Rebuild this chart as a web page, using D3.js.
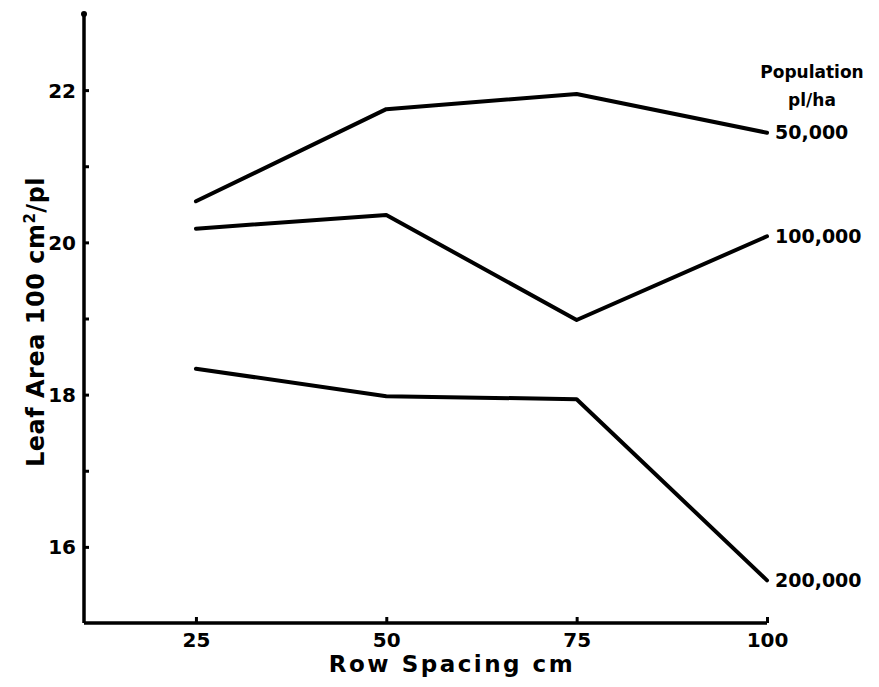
<!DOCTYPE html>
<html>
<head>
<meta charset="utf-8">
<script src="https://cdn.jsdelivr.net/npm/d3@7"></script>
<style>
  body { margin: 0; background: #fff; }
  text { font-family: "DejaVu Sans", sans-serif; font-weight: bold; fill: #000; }
</style>
</head>
<body>
<svg width="879" height="687"></svg>
<script>
// espacement des rangs (cm)
var rowSpacing = [25, 50, 75, 100];
// surface foliaire par population
var pop50k = [20.54, 21.75, 21.95, 21.44];
var pop100k = [20.18, 20.36, 18.98, 20.08];
var pop200k = [18.34, 17.98, 17.94, 15.56];
var seriesNames = ["50,000", "100,000", "200,000"];
var yTicks = [16, 17, 18, 19, 20, 21, 22];
var xTicks = [25, 50, 75, 100];

var svg = d3.select("svg");
var margin = { top: 14, left: 84, right: 112, bottom: 64 };

var x = d3.scaleLinear().domain([10.3, 100]).range([84, 767]);
var y = d3.scaleLinear().domain([15, 23]).range([623, 14]);

// axe des ordonnees
var yAxis = svg.append("g")
    .attr("transform", "translate(" + margin.left + ",0)")
    .call(d3.axisLeft(y)
        .tickValues(yTicks)
        .tickSize(-5)
        .tickPadding(8)
        .tickFormat(function(d) { return d % 2 === 0 ? d : ""; }));
yAxis.select(".domain").attr("stroke-width", 3.5).attr("d", "M0," + y(23) + "V" + y(15));
yAxis.selectAll(".tick line").attr("stroke-width", 3);
yAxis.selectAll("text").style("font-size", "20px").attr("dy", "0.35em");

// axe des abscisses
var xAxis = svg.append("g")
    .attr("transform", "translate(0," + y(15) + ")")
    .call(d3.axisBottom(x)
        .tickValues(xTicks)
        .tickSize(-6)
        .tickPadding(10));
xAxis.select(".domain").attr("stroke-width", 3.5).attr("d", "M" + x(10.3) + ",0H" + x(100));
xAxis.selectAll(".tick line").attr("stroke-width", 3);
xAxis.selectAll("text").style("font-size", "20px");

// petit point en haut de l'axe
svg.append("circle").attr("cx", x(10.3)).attr("cy", y(23)).attr("r", 3).attr("fill", "#000");

// titres des axes
svg.append("text")
    .attr("x", 452).attr("y", 672)
    .attr("text-anchor", "middle")
    .style("font-size", "23px")
    .style("letter-spacing", "2.5px")
    .text("Row Spacing cm");

var yTitle = svg.append("text")
    .attr("transform", "translate(44,322) rotate(-90)")
    .attr("text-anchor", "middle")
    .style("font-size", "24px")
    .style("letter-spacing", "0.5px");
yTitle.append("tspan").text("Leaf Area 100 cm");
yTitle.append("tspan").attr("baseline-shift", "super").style("font-size", "15px").text("2");
yTitle.append("tspan").text("/pl");

// les lignes
var line = d3.line()
    .x(function(d, i) { return x(rowSpacing[i]); })
    .y(function(d) { return y(d); });

[pop50k, pop100k, pop200k].forEach(function(s, k) {
    svg.append("path")
        .datum(s)
        .attr("fill", "none")
        .attr("stroke", "#000")
        .attr("stroke-width", 4)
        .attr("stroke-linejoin", "round")
        .attr("stroke-linecap", "round")
        .attr("d", line);
    svg.append("text")
        .attr("x", x(100) + 8)
        .attr("y", y(s[s.length - 1]))
        .attr("dy", "0.35em")
        .style("font-size", "19px")
        .text(seriesNames[k]);
});

// legende
svg.append("text").attr("x", 812).attr("y", 78).attr("text-anchor", "middle")
    .style("font-size", "17px").text("Population");
svg.append("text").attr("x", 812).attr("y", 106).attr("text-anchor", "middle")
    .style("font-size", "17px").text("pl/ha");
</script>
</body>
</html>
